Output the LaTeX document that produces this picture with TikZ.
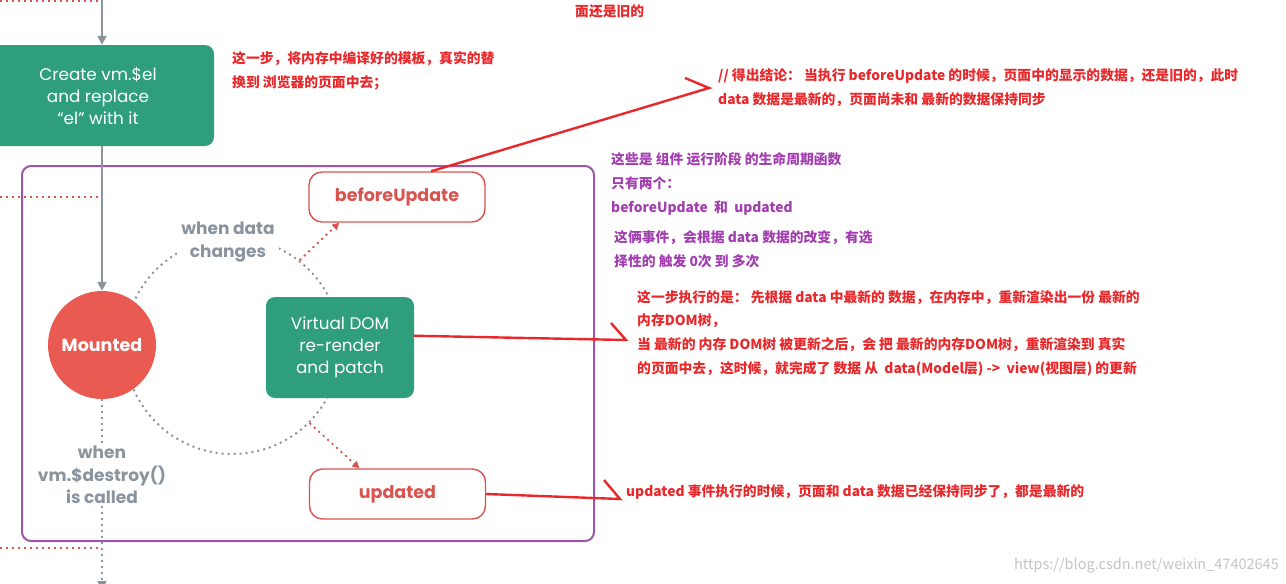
\documentclass[tikz,border=0pt]{standalone}
\usepackage{fontspec}
\setmainfont{Poppins}
\newfontfamily\cjk{Noto Sans CJK SC}
\usetikzlibrary{arrows.meta,positioning}
\definecolor{vgreen}{HTML}{2F9E7C}
\definecolor{mountred}{HTML}{E95B52}
\definecolor{hookred}{HTML}{D9534F}
\definecolor{phasepurple}{HTML}{9C55A8}
\definecolor{flowgray}{HTML}{8A949E}
\definecolor{notered}{HTML}{E8282B}
\definecolor{notepurple}{HTML}{A23EAF}
\definecolor{markgray}{HTML}{C4C4C4}

\begin{document}
\begin{tikzpicture}[
      x=1pt, y=-1pt,
      greenbox/.style={fill=vgreen, rounded corners=9pt, text=white, align=center, font=\fontsize{16.8}{22}\selectfont, inner sep=0pt},
      hookbox/.style={draw=hookred, line width=1.4pt, fill=white, rounded corners=13pt, minimum width=176pt, minimum height=50pt, text=hookred, font=\bfseries\fontsize{17.5}{20}\selectfont},
      mountnode/.style={circle, fill=mountred, minimum size=108pt, inner sep=0pt, text=white, font=\bfseries\fontsize{17.5}{20}\selectfont},
      graytext/.style={fill=white, inner sep=4pt, text=flowgray, align=center, font=\bfseries\fontsize{17}{22.5}\selectfont},
      loopcircle/.style={circle, draw=flowgray, line width=2pt, dash pattern=on 2pt off 4pt, minimum size=216pt, inner sep=0pt},
      rednote/.style={anchor=north west, inner sep=0pt, text=notered, align=left, font=\cjk\bfseries\fontsize{13.8}{24}\selectfont},
      purplenote/.style={rednote, text=notepurple},
      flow/.style={-{Triangle[length=9pt,width=9pt]}, draw=flowgray, line width=2pt},
      destroyline/.style={draw=flowgray, line width=2pt, dash pattern=on 2pt off 4pt},
      hookarrow/.style={-{Triangle[length=7pt,width=7pt]}, draw=hookred, line width=1.8pt, dash pattern=on 2pt off 4pt},
      bounddash/.style={draw=hookred, line width=1.8pt, dash pattern=on 2pt off 4pt},
      noteline/.style={draw=notered, line width=2.4pt}
    ]
      \useasboundingbox (0,0) rectangle (1286,584);
      \clip (0,0) rectangle (1286,584);

      % phase frame and update loop
      \draw[phasepurple, line width=2pt, rounded corners=9pt] (22,166) rectangle (594,541);
      \node[loopcircle] (loop) at (232.5,346) {};

      % left boundary marks
      \draw[bounddash] (0,1) -- (100,1);
      \draw[bounddash] (0,197) -- (100,197);
      \draw[bounddash] (0,548) -- (100,548);

      \node[greenbox, minimum width=232pt, minimum height=101pt] (create) at (98,95.5) {Create vm.\$el\\and replace\\“el” with it};
      \node[mountnode] (mounted) at (102,345) {Mounted};
      \node[greenbox, minimum width=148pt, minimum height=101pt] (vdom) at (340,347.5) {Virtual DOM\\re-render\\and patch};
      \node[hookbox] (before) at (397,197) {beforeUpdate};
      \node[hookbox] (updated) at (397.5,494) {updated};
      \node[graytext] (datachg) at (228,242) {when data\\changes};
      \node[graytext, inner sep=2pt] (destroy) at (102,475) {when\\vm.\$destroy()\\is called};

      \coordinate (topin) at (102,0);
      \coordinate (bottomout) at (102,590);
      \path (topin) edge[flow] (create.north -| topin);
      \path (create.south -| mounted) edge[flow] (mounted);
      \draw[destroyline] (mounted) -- (destroy);
      \draw[destroyline, -{Triangle[length=9pt,width=9pt]}] (destroy) -- (bottomout);
      \draw[hookarrow] (loop.52) -- (before.204);
      \draw[hookarrow] (loop.-45) -- (updated.146);

      % notes
      \node[rednote] (oldpage) at (575,4) {面还是旧的};
      \node[rednote] (createnote) at (232,51) {这一步，将内存中编译好的模板，真实的替\\换到 浏览器的页面中去；};
      \node[rednote] (beforenote) at (718,68) {// 得出结论： 当执行 beforeUpdate 的时候，页面中的显示的数据，还是旧的，此时\\data 数据是最新的，页面尚未和 最新的数据保持同步};
      \node[purplenote] (phasenote) at (611,152) {这些是 组件 运行阶段 的生命周期函数\\只有两个：\\beforeUpdate \ 和 \ updated};
      \node[purplenote] (countnote) at (614,230) {这俩事件，会根据 data 数据的改变，有选\\择性的 触发 0次 到 多次};
      \node[rednote, font=\cjk\bfseries\fontsize{13.8}{23.7}\selectfont] (vdomnote) at (637,290) {这一步执行的是： 先根据 data 中最新的 数据，在内存中，重新渲染出一份 最新的\\内存DOM树，\\当 最新的 内存 DOM树 被更新之后，会 把 最新的内存DOM树，重新渲染到 真实\\的页面中去，这时候，就完成了 数据 从 \ data(Model层) -> \ view(视图层) 的更新};
      \node[rednote] (updatednote) at (626,484) {updated 事件执行的时候，页面和 data 数据已经保持同步了，都是最新的};
      \node[anchor=east, inner sep=0pt, text=markgray, font=\cjk\fontsize{14.5}{16}\selectfont] (mark) at (1279,566) {https://blog.csdn.net/weixin\_47402645};

      % pointers to the notes
      \coordinate (beforetip) at (709,88);
      \coordinate (beforearm) at (685,78);
      \coordinate (vdomtip) at (626,340);
      \coordinate (vdomarm) at (611,323);
      \coordinate (updtip) at (620,499);
      \coordinate (updarm) at (604,480);
      \draw[noteline] (before.37) -- (beforetip) -- (beforearm);
      \draw[noteline] (vdom.9) -- (vdomtip) -- (vdomarm);
      \draw[noteline] (updated.east) -- (updtip) -- (updarm);
    \end{tikzpicture}
\end{document}
